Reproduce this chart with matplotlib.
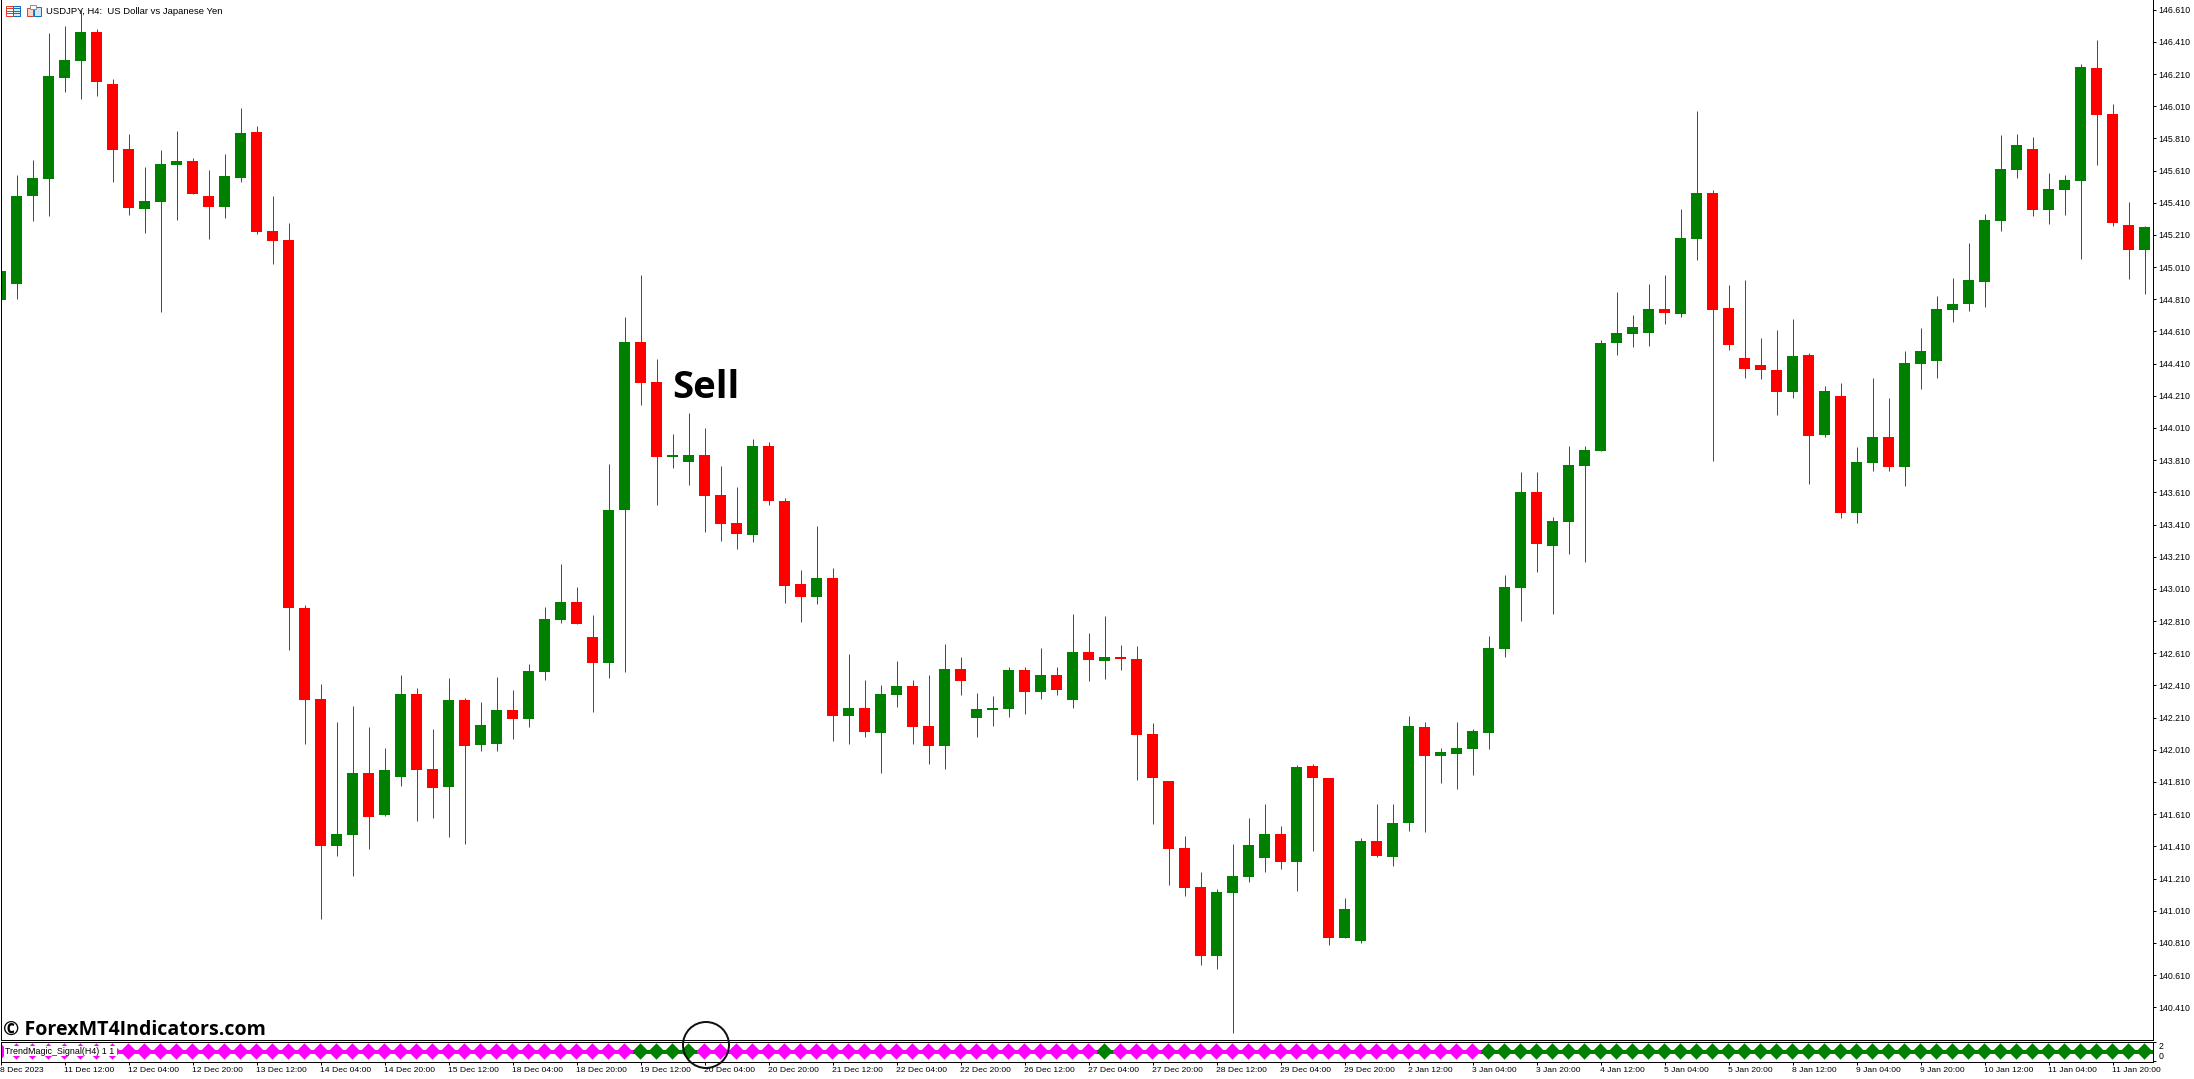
import matplotlib
matplotlib.use('Agg')
import matplotlib.pyplot as plt
from matplotlib.patches import Ellipse, Rectangle
import numpy as np

# USDJPY H4 candles
opens = [144.806, 144.905, 145.452, 145.558, 146.185, 146.291, 146.471, 146.148, 145.744, 145.371,
         145.415, 145.645, 145.669, 145.452, 145.383, 145.564, 145.850, 145.234, 145.178, 142.891,
         142.326, 141.412, 141.480, 141.866, 141.605, 141.841, 142.357, 141.891, 141.779, 142.319,
         142.040, 142.046, 142.257, 142.201, 142.494, 142.817, 142.929, 142.711, 142.549, 143.500,
         144.544, 144.296, 143.830, 143.799, 143.842, 143.594, 143.420, 143.345, 143.898, 143.556,
         143.040, 142.960, 143.078, 142.220, 142.270, 142.114, 142.351, 142.407, 142.158, 142.034,
         142.512, 142.208, 142.257, 142.264, 142.506, 142.369, 142.475, 142.319, 142.618, 142.562,
         142.587, 142.574, 142.108, 141.816, 141.400, 141.157, 140.728, 141.120, 141.219, 141.338,
         141.487, 141.313, 141.909, 141.835, 140.840, 140.822, 141.443, 141.344, 141.555, 142.152,
         141.971, 141.984, 142.015, 142.114, 142.636, 143.016, 143.612, 143.277, 143.426, 143.774,
         143.867, 144.538, 144.594, 144.600, 144.750, 144.718, 145.185, 145.471, 144.756, 144.445,
         144.402, 144.370, 144.234, 144.464, 143.966, 144.209, 143.482, 143.792, 143.954, 143.768,
         144.408, 144.426, 144.743, 144.781, 144.917, 145.296, 145.613, 145.744, 145.365, 145.489,
         145.545, 146.247, 145.961, 145.272, 145.116]
highs = [144.986, 145.582, 145.676, 146.465, 146.508, 146.608, 146.490, 146.179, 145.837, 145.632,
         145.738, 145.856, 145.688, 145.613, 145.713, 145.999, 145.887, 145.452, 145.284, 142.910,
         142.419, 142.183, 142.282, 142.152, 142.021, 142.475, 142.394, 142.139, 142.456, 142.332,
         142.307, 142.462, 142.382, 142.543, 142.897, 143.165, 143.022, 142.848, 143.786, 144.700,
         144.961, 144.439, 143.973, 144.103, 144.010, 143.774, 143.643, 143.942, 143.923, 143.575,
         143.127, 143.401, 143.140, 142.605, 142.444, 142.413, 142.562, 142.444, 142.475, 142.668,
         142.587, 142.363, 142.344, 142.525, 142.525, 142.643, 142.525, 142.854, 142.736, 142.842,
         142.661, 142.655, 142.177, 141.816, 141.474, 141.251, 141.145, 141.425, 141.586, 141.673,
         141.536, 141.915, 141.922, 141.835, 141.089, 141.462, 141.673, 141.673, 142.220, 142.183,
         142.021, 142.183, 142.139, 142.717, 143.096, 143.737, 143.737, 143.457, 143.898, 143.898,
         144.557, 144.855, 144.712, 144.905, 144.961, 145.371, 145.980, 145.489, 144.899, 144.930,
         144.569, 144.619, 144.687, 144.476, 144.271, 144.290, 143.892, 144.321, 144.196, 144.489,
         144.631, 144.830, 144.942, 145.160, 145.340, 145.831, 145.837, 145.819, 145.595, 145.582,
         146.272, 146.421, 146.024, 145.415, 145.265]
lows = [144.806, 144.812, 145.296, 145.328, 146.098, 146.055, 146.073, 145.539, 145.334, 145.222,
        144.731, 145.303, 145.464, 145.185, 145.315, 145.539, 145.216, 145.029, 142.630, 142.046,
        140.958, 141.350, 141.226, 141.393, 141.599, 141.785, 141.567, 141.586, 141.468, 141.425,
        142.003, 142.003, 142.077, 142.152, 142.444, 142.798, 142.792, 142.245, 142.456, 142.494,
        144.153, 143.531, 143.761, 143.656, 143.364, 143.308, 143.258, 143.301, 143.531, 142.922,
        142.804, 142.916, 142.065, 142.046, 142.090, 141.866, 142.276, 142.046, 141.922, 141.891,
        142.351, 142.090, 142.158, 142.214, 142.232, 142.326, 142.351, 142.270, 142.438, 142.450,
        142.506, 141.822, 141.549, 141.170, 141.101, 140.672, 140.648, 140.250, 141.188, 141.251,
        141.269, 141.132, 141.381, 140.797, 140.840, 140.809, 141.344, 141.288, 141.505, 141.499,
        141.804, 141.766, 141.853, 142.015, 142.587, 142.811, 143.115, 142.854, 143.227, 143.177,
        143.867, 144.464, 144.513, 144.520, 144.656, 144.700, 145.054, 143.805, 144.495, 144.321,
        144.315, 144.091, 144.196, 143.662, 143.954, 143.451, 143.420, 143.743, 143.743, 143.650,
        144.252, 144.321, 144.669, 144.737, 144.762, 145.234, 145.564, 145.328, 145.278, 145.334,
        145.060, 145.645, 145.265, 144.936, 144.843]
closes = [144.986, 145.452, 145.564, 146.198, 146.297, 146.471, 146.160, 145.738, 145.377, 145.421,
          145.651, 145.669, 145.464, 145.383, 145.576, 145.843, 145.228, 145.172, 142.891, 142.319,
          141.412, 141.487, 141.866, 141.592, 141.884, 142.357, 141.884, 141.773, 142.319, 142.034,
          142.164, 142.257, 142.201, 142.500, 142.823, 142.929, 142.792, 142.549, 143.500, 144.544,
          144.290, 143.830, 143.842, 143.842, 143.587, 143.413, 143.351, 143.898, 143.556, 143.028,
          142.960, 143.078, 142.220, 142.270, 142.121, 142.357, 142.407, 142.152, 142.034, 142.512,
          142.438, 142.264, 142.270, 142.506, 142.369, 142.475, 142.382, 142.618, 142.568, 142.587,
          142.574, 142.102, 141.835, 141.393, 141.151, 140.728, 141.126, 141.226, 141.418, 141.487,
          141.313, 141.903, 141.835, 140.840, 141.021, 141.443, 141.350, 141.555, 142.158, 141.971,
          141.996, 142.021, 142.127, 142.643, 143.022, 143.612, 143.289, 143.432, 143.780, 143.873,
          144.538, 144.600, 144.638, 144.750, 144.725, 145.191, 145.471, 144.743, 144.526, 144.377,
          144.370, 144.234, 144.457, 143.960, 144.240, 143.482, 143.799, 143.954, 143.768, 144.414,
          144.489, 144.750, 144.781, 144.930, 145.303, 145.620, 145.769, 145.365, 145.495, 145.551,
          146.254, 145.955, 145.284, 145.116, 145.259]

# bars where the TrendMagic signal is up (green), all others are down (magenta)
signal_up = [40, 41, 42, 43, 69] + list(range(93, 135))

price_ticks = [146.61, 146.41, 146.21, 146.01, 145.81, 145.61, 145.41, 145.21, 145.01, 144.81, 144.61,
               144.41, 144.21, 144.01, 143.81, 143.61, 143.41, 143.21, 143.01, 142.81, 142.61, 142.41,
               142.21, 142.01, 141.81, 141.61, 141.41, 141.21, 141.01, 140.81, 140.61, 140.41]
time_labels = ['8 Dec 2023', '11 Dec 12:00', '12 Dec 04:00', '12 Dec 20:00', '13 Dec 12:00', '14 Dec 04:00',
               '14 Dec 20:00', '15 Dec 12:00', '18 Dec 04:00', '18 Dec 20:00', '19 Dec 12:00', '20 Dec 04:00',
               '20 Dec 20:00', '21 Dec 12:00', '22 Dec 04:00', '22 Dec 20:00', '26 Dec 12:00', '27 Dec 04:00',
               '27 Dec 20:00', '28 Dec 12:00', '29 Dec 04:00', '29 Dec 20:00', '2 Jan 12:00', '3 Jan 04:00',
               '3 Jan 20:00', '4 Jan 12:00', '5 Jan 04:00', '5 Jan 20:00', '8 Jan 12:00', '9 Jan 04:00',
               '9 Jan 20:00', '10 Jan 12:00', '11 Jan 04:00', '11 Jan 20:00']

W, H = 2194, 1079
GREEN = '#008000'
RED = '#ff0000'
MAGENTA = '#ff00ff'
SMALL = ['Liberation Sans', 'DejaVu Sans']
BOLD = ['Open Sans', 'Noto Sans', 'DejaVu Sans']
PX = 0.72  # one pixel in points at dpi 100

o = np.array(opens)
c = np.array(closes)
x = np.arange(len(o))
colors = [GREEN if up else RED for up in c >= o]

fig = plt.figure(figsize=(W / 100, H / 100), dpi=100, facecolor='white')


def axes_px(left, top, right, bottom):
    return fig.add_axes([left / W, 1 - bottom / H, (right - left) / W, (bottom - top) / H])


# Main candle panel
ax = axes_px(0.5, 0, 2152.5, 1039.5)
ax.set_xlim(0, 134.5)
ax.set_ylim(140.2095, 146.670)
ax.vlines(x, lows, highs, colors=colors, linewidth=PX)
ax.bar(x, np.maximum(np.abs(c - o), 0.012), bottom=np.minimum(o, c), width=11 / 16, color=colors, linewidth=0)
ax.spines['top'].set_visible(False)
ax.set_xticks([])
ax.yaxis.tick_right()
ax.set_yticks(price_ticks)
ax.set_yticklabels([f'{p:.3f}' for p in price_ticks], family=SMALL, fontsize=6.3)
ax.tick_params(axis='y', length=3 * PX, width=PX, pad=3 * PX)
for s in ax.spines.values():
    s.set_linewidth(PX)

# Signal strip below
sub = axes_px(0.5, 1041.5, 2152.5, 1061.5)
sub.set_xlim(0, 134.5)
sub.set_ylim(-0.111, 2.111)
sig_colors = [GREEN if i in signal_up else MAGENTA for i in x]
sub.hlines(np.ones(len(x)), x - 0.5, x + 0.5, colors=sig_colors, linewidth=4 * PX)
sub.scatter(x, np.ones(len(x)), marker='D', s=70, c=sig_colors, linewidths=0, clip_on=True)
sub.yaxis.tick_right()
sub.set_yticks([2, 0])
sub.set_yticklabels(['2', '0'], family=SMALL, fontsize=6.3)
sub.get_yticklabels()[0].set_va('top')
sub.get_yticklabels()[1].set_va('bottom')
sub.set_xticks(x[::4][:len(time_labels)])
sub.set_xticklabels(time_labels, family=SMALL, fontsize=6.1, ha='left')
sub.tick_params(axis='both', length=3 * PX, width=PX, pad=3 * PX)
for s in sub.spines.values():
    s.set_linewidth(PX)

# Overlay in pixel coordinates for the annotations
top = fig.add_axes([0, 0, 1, 1], facecolor='none')
top.set_xlim(0, W)
top.set_ylim(H, 0)
top.axis('off')

top.text(46.5, 11, 'USDJPY, H4:  US Dollar vs Japanese Yen', family=SMALL, fontsize=6.8, va='center', ha='left')
top.text(672, 398, 'Sell', family=BOLD, fontweight='bold', fontsize=27.5, va='baseline', ha='left', color='black')
top.text(3, 1035, '\u00a9 ForexMT4Indicators.com', family=BOLD, fontweight='bold', fontsize=14.1, va='baseline',
         ha='left', color='black')
top.add_patch(Ellipse((706, 1045), 46, 46, fill=False, edgecolor='#111111', linewidth=2 * PX))

# Indicator name sits on a white box over the first diamonds
top.add_patch(Rectangle((4, 1046), 113, 10, facecolor='white', edgecolor='none'))
top.text(5, 1051, 'TrendMagic_Signal(H4) 1 1', family=SMALL, fontsize=6.4, va='center', ha='left')

# Toolbar style icons next to the symbol name
top.add_patch(Rectangle((5.5, 5.5), 14, 10, facecolor='white', edgecolor='#e0402a', linewidth=PX))
top.add_patch(Rectangle((13, 5.5), 6.5, 10, facecolor='#d8ecfa', edgecolor='#1070c0', linewidth=PX))
for yy in (8, 10.5, 13):
    top.plot([7, 12], [yy, yy], color='#e0402a', linewidth=PX)
    top.plot([14, 19], [yy, yy], color='#1070c0', linewidth=PX)
top.add_patch(Rectangle((26.5, 7.5), 6.5, 8, facecolor='#fbd5cc', edgecolor='#e0402a', linewidth=PX))
top.add_patch(Rectangle((34, 6.5), 6.5, 9, facecolor='#cfe6f8', edgecolor='#1070c0', linewidth=PX))
top.add_patch(Rectangle((30, 5), 6, 4, facecolor='white', edgecolor='#909090', linewidth=PX))

fig.savefig('out.png', dpi=100, facecolor='white')
